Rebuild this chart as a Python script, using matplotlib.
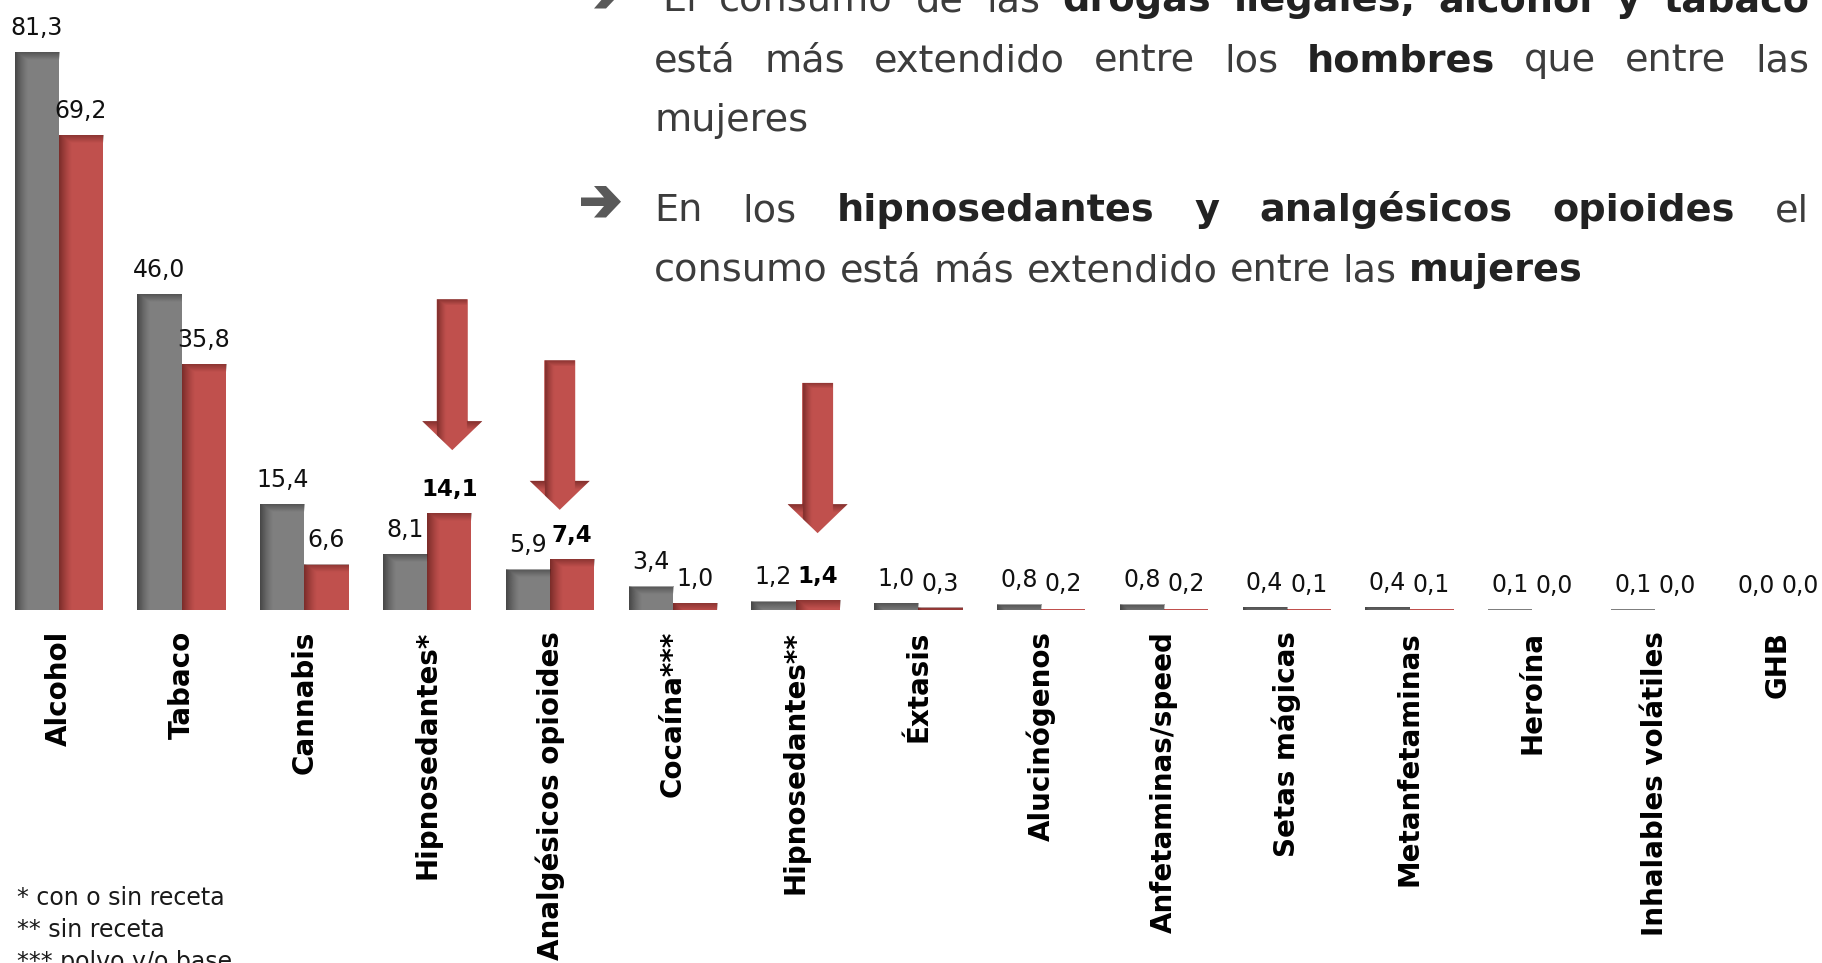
import numpy as np
import matplotlib
matplotlib.use("Agg")
import matplotlib.pyplot as plt
from matplotlib.patches import Polygon

# ---------------- data ----------------
categories = ["Alcohol", "Tabaco", "Cannabis", "Hipnosedantes*", "Analgésicos opioides",
              "Cocaína***", "Hipnosedantes**", "Éxtasis", "Alucinógenos",
              "Anfetaminas/speed", "Setas mágicas", "Metanfetaminas", "Heroína",
              "Inhalables volátiles", "GHB"]
hombres = [81.3, 46.0, 15.4, 8.1, 5.9, 3.4, 1.2, 1.0, 0.8, 0.8, 0.4, 0.4, 0.1, 0.1, 0.0]
mujeres = [69.2, 35.8, 6.6, 14.1, 7.4, 1.0, 1.4, 0.3, 0.2, 0.2, 0.1, 0.1, 0.0, 0.0, 0.0]
highlight = [3, 4, 6]   # women's values shown in bold, with arrows

footnotes = ["* con o sin receta", "** sin receta", "*** polvo y/o base"]

para1 = [[("El", 0), ("consumo", 0), ("de", 0), ("las", 0), ("drogas", 1), ("ilegales,", 1),
          ("alcohol", 1), ("y", 1), ("tabaco", 1)],
         [("está", 0), ("más", 0), ("extendido", 0), ("entre", 0), ("los", 0), ("hombres", 1),
          ("que", 0), ("entre", 0), ("las", 0)],
         [("mujeres", 0)]]
para2 = [[("En", 0), ("los", 0), ("hipnosedantes", 1), ("y", 1), ("analgésicos", 1),
          ("opioides", 1), ("el", 0)],
         [("consumo", 0), ("está", 0), ("más", 0), ("extendido", 0), ("entre", 0), ("las", 0),
          ("mujeres", 1)]]

# ---------------- style / layout ----------------
W, H = 1822, 963
GRAY = "#7F7F7F"
RED = "#C0504D"
GRAY_SH = "#1e1e1e"
RED_SH = "#4a1210"
TXT = "#3c3c3c"
TXT_B = "#222222"

BASE_PX = 610.0       # baseline y (from top) in px
PPY = 6.86            # px per value unit
X0_PX = 58.7          # first group center px
PPX = 122.8           # px per category
BW = 44.2 / PPX       # bar width in category units

plt.rcParams['font.family'] = ['DejaVu Sans']

fig = plt.figure(figsize=(W / 100, H / 100), dpi=100)
fig.patch.set_facecolor("white")
ax = fig.add_axes([0, (H - BASE_PX) / H, 1, BASE_PX / H])
XL = (-X0_PX / PPX, (W - X0_PX) / PPX)
YL = (0, BASE_PX / PPY)

x = np.arange(len(categories))
bars_h = ax.bar(x - BW / 2, hombres, BW, color=GRAY, zorder=2, linewidth=0)
bars_m = ax.bar(x + BW / 2, mujeres, BW, color=RED, zorder=2, linewidth=0)


def shade_bar(x0, x1, h, shade):
    hpx = h * PPY
    if hpx < 1.5:
        return
    wpx = (x1 - x0) * PPX
    cols = 60
    rows = max(2, int(round(hpx)))
    xp = (np.arange(cols) + 0.5) / cols * wpx
    yp = (np.arange(rows) + 0.5) / rows * hpx
    a_left = 0.6 * np.clip(1 - xp / 13.0, 0, 1) ** 1.3
    a_top = 0.45 * np.clip(1 - yp / 8.0, 0, 1)
    alpha = np.maximum(a_left[None, :], a_top[:, None])
    rgb = np.array(matplotlib.colors.to_rgb(shade))
    img = np.zeros((rows, cols, 4))
    img[..., :3] = rgb
    img[..., 3] = alpha
    ax.imshow(img, extent=(x0, x1, 0, h), origin="upper", aspect="auto",
              interpolation="bilinear", zorder=3)


for b in bars_h:
    shade_bar(b.get_x(), b.get_x() + b.get_width(), b.get_height(), GRAY_SH)
for b in bars_m:
    shade_bar(b.get_x(), b.get_x() + b.get_width(), b.get_height(), RED_SH)


def fmt(v):
    return f"{v:.1f}".replace(".", ",")


for i in x:
    ax.annotate(fmt(hombres[i]), (i - BW / 2, hombres[i]), xytext=(0, 12.5),
                textcoords="offset points", ha="center", va="baseline",
                fontsize=17, color="#111111", zorder=5)
    bold = i in highlight
    ax.annotate(fmt(mujeres[i]), (i + BW / 2, mujeres[i]), xytext=(0, 12.5),
                textcoords="offset points", ha="center", va="baseline",
                fontsize=16.5 if bold else 17, fontweight="bold" if bold else "normal",
                color="#000000" if bold else "#111111", zorder=5)

# ---- arrows over highlighted bars ----
arrow_specs = {3: (0.025, 23.3, 45.3), 4: (-0.10, 14.6, 36.4), 6: (0.0, 11.2, 33.1)}
SW = 31 / PPX
HW = 60 / PPX
HL = 29 / PPY
for i, (dx, tip, top) in arrow_specs.items():
    cx = i + BW / 2 + dx
    hs = tip + HL
    verts = [(cx - SW / 2, top), (cx + SW / 2, top), (cx + SW / 2, hs), (cx + HW / 2, hs),
             (cx, tip), (cx - HW / 2, hs), (cx - SW / 2, hs)]
    poly = Polygon(verts, closed=True, facecolor=RED, edgecolor="none", zorder=6)
    ax.add_patch(poly)
    cols, rows = 80, int((top - tip) * PPY)
    xs = np.linspace(cx - HW / 2, cx + HW / 2, cols)
    ys = np.linspace(top, tip, rows)
    xpx = (xs - (cx - SW / 2)) * PPX
    a_left = 0.6 * np.clip(1 - xpx / 10.0, 0, 1) ** 1.3
    a_left[xpx < 0] = 0
    ypx_top = (top - ys) * PPY
    a_top = 0.45 * np.clip(1 - ypx_top / 6.0, 0, 1)
    ypx_h = (hs - ys) * PPY
    a_head = 0.55 * np.clip(1 - ypx_h / 9.0, 0, 1)
    a_head[ypx_h < 0] = 0
    alpha = np.maximum(a_left[None, :], a_top[:, None])
    outside = np.abs(xs - cx) > SW / 2
    head_alpha = a_head[:, None] * np.ones((1, cols))
    alpha = np.where(outside[None, :], head_alpha, alpha)
    img = np.zeros((rows, cols, 4))
    img[..., :3] = matplotlib.colors.to_rgb(RED_SH)
    img[..., 3] = alpha
    im = ax.imshow(img, extent=(cx - HW / 2, cx + HW / 2, tip, top), origin="upper",
                   aspect="auto", interpolation="bilinear", zorder=7)
    im.set_clip_path(poly)

ax.set_xlim(*XL)
ax.set_ylim(*YL)
ax.set_xticks(x)
ax.set_xticklabels(categories, rotation=90, fontsize=20, fontweight="bold", color="#000000")
ax.tick_params(axis="x", length=0, pad=15)
ax.set_yticks([])
for s in ax.spines.values():
    s.set_visible(False)
ax.patch.set_alpha(0)

# ---- footnotes ----
for k, t in enumerate(footnotes):
    fig.text(17 / W, (H - (905 + 32 * k)) / H, t, fontsize=17, color="#1a1a1a",
             va="baseline", ha="left")

# ---- justified paragraph text ----
FS = 27.5
renderer = fig.canvas.get_renderer()


def measure(s, bold):
    t = fig.text(0, 0, s, fontsize=FS, fontweight="bold" if bold else "normal")
    w = t.get_window_extent(renderer).width
    t.remove()
    return w


space_w = measure("a a", 0) - measure("aa", 0)


def draw_line(words, x0, x1, ybase, justify):
    widths = [measure(w, b) for w, b in words]
    if justify and len(words) > 1:
        gap = (x1 - x0 - sum(widths)) / (len(words) - 1)
    else:
        gap = space_w
    xx = x0
    for (w, b), wd in zip(words, widths):
        fig.text(xx / W, (H - ybase) / H, w, fontsize=FS,
                 fontweight="bold" if b else "normal",
                 color=TXT_B if b else TXT, va="baseline", ha="left")
        xx += wd + gap


TX0, TX1 = 654, 1809
draw_line(para1[0], TX0 + 8, TX1, 11, True)
draw_line(para1[1], TX0, TX1, 71, True)
draw_line(para1[2], TX0, TX1, 131, False)
draw_line(para2[0], TX0, TX1, 221, True)
draw_line(para2[1], TX0, TX1, 281, False)

# ---- bullet arrows (drawn in pixel coordinates) ----
bullet = [(581, 197.5), (604, 197.5), (594, 186), (606, 186), (621, 201.7),
          (606, 217.5), (594, 217.5), (604, 206), (581, 206)]
for dy in (-209, 0):
    pts = [(px, H - (py + dy)) for px, py in bullet]
    fig.patches.append(Polygon(pts, closed=True, transform=None,
                               facecolor="#595959", edgecolor="none", figure=fig))

fig.savefig("out.png", dpi=100)
